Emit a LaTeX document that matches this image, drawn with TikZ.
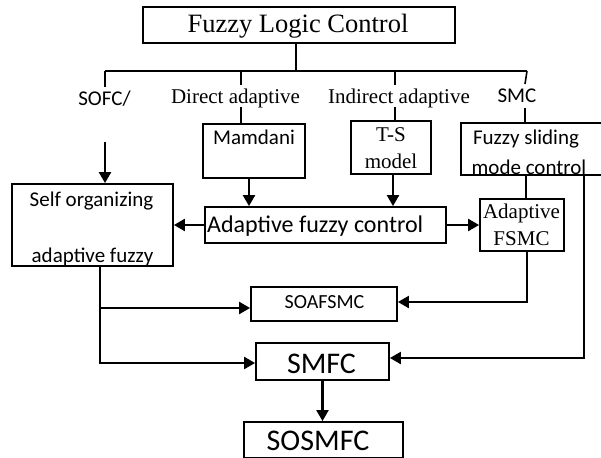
\documentclass[tikz,border=0pt]{standalone}
\usepackage{fontspec}
\setmainfont{Liberation Serif}
\newfontfamily\carlitofont{Carlito}
\usetikzlibrary{arrows.meta}

\begin{document}
\begin{tikzpicture}[x=1pt,y=-1pt,
  box/.style={draw, line width=1.8pt, rectangle, inner sep=0pt},
  tree/.style={line width=1.6pt},
  arr/.style={line width=2.2pt, -{Triangle[length=11pt,width=12pt]}},
  lbl/.style={inner sep=0pt, anchor=base},
  serifA/.style={font=\fontsize{21}{24}\selectfont},
  sansA/.style={font=\carlitofont\fontsize{21}{24}\selectfont},
]
\useasboundingbox (0,0) rectangle (601,457);
\clip (0,0) rectangle (601,457);

% boxes
\node[box, minimum width=312pt, minimum height=36pt] (flc) at (299,25) {};
\node[box, minimum width=102pt, minimum height=54pt] (mam) at (254,151) {};
\node[box, minimum width=80pt,  minimum height=53pt] (ts)  at (391,147.5) {};
\node[box, minimum width=159pt, minimum height=52pt] (fsm) at (540.5,149) {};
\node[box, minimum width=161pt, minimum height=82pt] (so)  at (92.5,225) {};
\node[box, minimum width=241pt, minimum height=36pt] (afc) at (325.5,225) {};
\node[box, minimum width=84pt,  minimum height=52pt] (afs) at (522,225) {};
\node[box, minimum width=146pt, minimum height=34pt] (soa) at (324,304) {};
\node[box, minimum width=133pt, minimum height=37pt] (smfc) at (322.5,361.5) {};
\node[box, minimum width=159pt, minimum height=36pt] (sos) at (323.5,440) {};

% texts
\node[lbl, font=\fontsize{26.5}{30}\selectfont] (tflc) at (298,33) {Fuzzy Logic Control};
\node[lbl, sansA] (tsofc) at (104.5,106) {SOFC/};
\node[lbl, serifA] (tdir) at (235.5,104) {Direct adaptive};
\node[lbl, serifA] (tind) at (399,104) {Indirect adaptive};
\node[lbl, sansA] (tsmc) at (517,103) {SMC};
\node[lbl, sansA] (tmam) at (254,145) {Mamdani};
\node[lbl, serifA] (tts1) at (391,142) {T-S};
\node[lbl, serifA] (tts2) at (391,168) {model};
\node[lbl, sansA] (tfs1) at (526,144) {Fuzzy sliding};
\node[lbl, sansA] (tfs2) at (529,174) {mode control};
\node[lbl, sansA] (tso1) at (91.5,206) {Self organizing};
\node[lbl, sansA] (tso2) at (92.5,262.5) {adaptive fuzzy};
\node[inner sep=0pt, anchor=base west, font=\carlitofont\fontsize{24}{28}\selectfont] (tafc) at (207,232) {Adaptive fuzzy control};
\node[lbl, serifA] (tafs1) at (521.5,218) {Adaptive};
\node[lbl, serifA] (tafs2) at (521.5,245) {FSMC};
\node[lbl, font=\carlitofont\fontsize{20}{24}\selectfont] (tsoa) at (324.5,308) {SOAFSMC};
\node[lbl, font=\carlitofont\fontsize{30}{34}\selectfont] (tsmfc) at (321.5,373) {SMFC};
\node[lbl, font=\carlitofont\fontsize{30}{34}\selectfont] (tsos) at (318,450) {SOSMFC};

% branching tree below the top box
\coordinate (stem) at (296,71);
\coordinate (barL) at (105,71);
\coordinate (barR) at (527,71);
\coordinate (dA) at (241,71);
\coordinate (dB) at (395,71);
\coordinate (dC) at (525,108);
\draw[tree] (flc.south -| stem) -- (stem);
\draw[tree] (barL) -- (barR);
\draw[tree] (barL) -- (105,87);
\draw[tree] (dA) -- (241,85);
\draw[tree] (dB) -- (395,85);
\draw[tree] (barR) -- (525,84);

% label-to-box links
\draw[tree] (241,107) -- (mam.north -| dA);
\draw[tree] (395,107) -- (ts.north -| dB);
\draw[tree] (dC) -- (fsm.north -| dC);

% arrows
\coordinate (sofcIn) at (105,142);
\draw[arr] (sofcIn) -- (so.north -| sofcIn);
\draw[arr] ([xshift=-5pt]mam.south) -- ([xshift=-5pt]mam.south |- afc.north);
\draw[arr] ([xshift=2pt]ts.south) -- ([xshift=2pt]ts.south |- afc.north);
\draw[arr] (afc.west) -- (afc.west -| so.east);
\draw[arr] (afc.east) -- (afc.east -| afs.west);
\draw[tree] ([xshift=4pt]afs.north |- fsm.south) -- ([xshift=4pt]afs.north);

\coordinate (afsDown) at ([xshift=5pt]afs.south);
\coordinate (soaR) at ([yshift=2pt]soa.east);
\draw[arr] (afsDown) |- (soaR);

\coordinate (fsmDown) at ([xshift=43.5pt]fsm.south);
\coordinate (smfcR) at ([yshift=3.5pt]smfc.east);
\draw[arr] (fsmDown) |- (smfcR);

\coordinate (soDown) at ([xshift=7.5pt]so.south);
\coordinate (soaL) at ([yshift=-4pt]soa.west);
\coordinate (smfcL) at ([yshift=-1.5pt]smfc.west);
\draw[arr] (soDown) |- (smfcL);
\draw[arr] (soaL -| soDown) -- (soaL);

\draw[arr] (smfc.south) -- (smfc.south |- sos.north);
\end{tikzpicture}
\end{document}
